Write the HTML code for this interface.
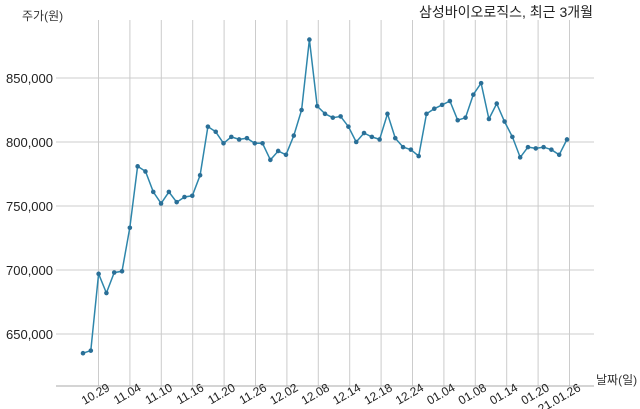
<!DOCTYPE html>
<html><head><meta charset="utf-8"><style>
html,body{margin:0;padding:0;background:#fff;}
svg{display:block;font-family:"Liberation Sans","Noto Sans CJK KR",sans-serif;}
</style></head><body>
<svg id="c" width="640" height="409" viewBox="0 0 640 409">
<g id="grid" stroke="#cccccc" stroke-width="1"></g>
<line x1="56" y1="386" x2="594" y2="386" stroke="#aaaaaa" stroke-width="1"/>
<g font-size="13" fill="#222" text-anchor="end">
<text x="53" y="83">850,000</text>
<text x="53" y="147">800,000</text>
<text x="53" y="211">750,000</text>
<text x="53" y="275">700,000</text>
<text x="53" y="339">650,000</text>
</g>
<text x="22" y="20" font-size="12" fill="#333">주가(원)</text>
<text x="593" y="17" font-size="14" fill="#222" text-anchor="end">삼성바이오로직스, 최근 3개월</text>
<text x="596" y="384" font-size="12" fill="#333">날짜(일)</text>
<g id="xl" font-size="12" fill="#222" text-anchor="end"></g>
<polyline id="ln" fill="none" stroke="#2e86ab" stroke-width="1.5"/>
<g id="pts" fill="#2a6f97"></g>
</svg>
<script>
var labels=["10.29","11.04","11.10","11.16","11.20","11.26","12.02","12.08","12.14","12.18","12.24","01.04","01.08","01.14","01.20","21.01.26"];
var ns="http://www.w3.org/2000/svg";
var g=document.getElementById("grid"),xl=document.getElementById("xl");
for(var i=0;i<16;i++){var x=98.5+i*31.4;var l=document.createElementNS(ns,"line");
l.setAttribute("x1",x);l.setAttribute("x2",x);l.setAttribute("y1",20);l.setAttribute("y2",386);g.appendChild(l);
var t=document.createElementNS(ns,"text");t.setAttribute("transform","translate("+(x+12)+",390) rotate(-30)");t.textContent=labels[i];xl.appendChild(t);}
[78,142,206,270,334].forEach(function(y){var l=document.createElementNS(ns,"line");l.setAttribute("x1",56);l.setAttribute("x2",594);l.setAttribute("y1",y);l.setAttribute("y2",y);g.appendChild(l);});
var v=[635,637,697,682,698,699,733,781,777,761,752,761,753,757,758,774,812,808,799,804,802,803,799,799,786,793,790,805,825,880,828,822,819,820,812,800,807,804,802,822,803,796,794,789,822,826,829,832,817,819,837,846,818,830,816,804,788,796,795,796,794,790,802];
var p=[],pts=document.getElementById("pts");
for(var i=0;i<v.length;i++){var x=83+i*(484/(v.length-1)),y=78+(850-v[i])*1.28;p.push(x.toFixed(1)+","+y.toFixed(1));
var c=document.createElementNS(ns,"circle");c.setAttribute("cx",x);c.setAttribute("cy",y);c.setAttribute("r",2.3);pts.appendChild(c);}
document.getElementById("ln").setAttribute("points",p.join(" "));
</script>
</body></html>
